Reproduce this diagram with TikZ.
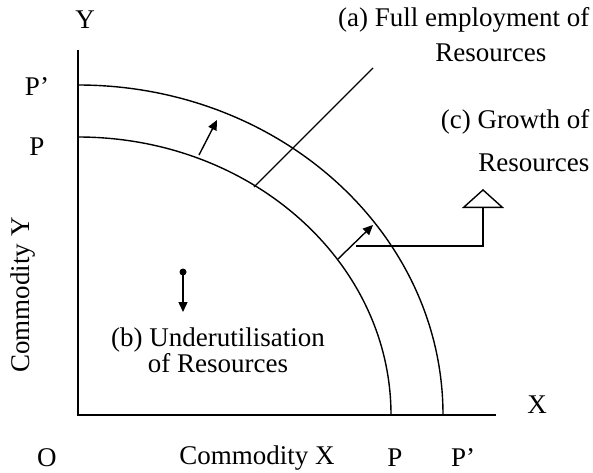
\documentclass[tikz,border=0pt]{standalone}
\usepackage{fontspec}
\setmainfont{Liberation Serif}
\usetikzlibrary{arrows.meta}
\begin{document}
\begin{tikzpicture}[x=0.5pt, y=0.5pt, line width=0.7pt,
		every node/.style={inner sep=0pt, font=\fontsize{13.5}{16}\selectfont},
		shiftarrow/.style={-{Triangle[length=5pt, width=4.5pt]}},
		growtharrow/.style={line width=1.1pt, -{Triangle[open, length=9.5pt, width=21pt, line width=0.7pt]}}]
		\useasboundingbox (-78,-57) rectangle (515,415);

		\coordinate (origin) at (0,0);
		\coordinate (yTop) at (0,365);
		\coordinate (xRight) at (418,0);
		\coordinate (innerTop) at (0,278);
		\coordinate (outerTop) at (0,330);

		\node (labelY) at (7,395) {Y};
		\node (labelX) at (459,10) {X};
		\node (labelO) at (-31,-43) {O};
		\node (labelOuterY) at (-41,328) {P’};
		\node (labelInnerY) at (-41,268) {P};
		\node (labelInnerX) at (317,-43) {P};
		\node (labelOuterX) at (385,-43) {P’};
		\node[rotate=90] (commodityY) at (-55,120) {Commodity Y};
		\node (commodityX) at (179,-43) {Commodity X};

		\node[anchor=east, align=right] (fullEmployment) at (512,380) {(a) Full employment of\\[1.5pt]Resources\hspace*{21.5pt}};
		\node[anchor=east, align=right] (growthText) at (512,274) {(c) Growth of\\[5.5pt]Resources};
		\node[align=center] (underUse) at (140,65) {(b) Underutilisation\\[-3pt]of Resources};

		\draw (yTop) -- (origin) -- (xRight);
		\draw (innerTop) arc[start angle=90, end angle=0, x radius=313, y radius=278];
		\draw (outerTop) arc[start angle=90, end angle=0, x radius=365, y radius=330];

		\coordinate (employStart) at (176,228);
		\coordinate (employEnd) at (295,347);
		\draw (employStart) -- (employEnd);

		\coordinate (shiftOneStart) at (121,260);
		\coordinate (shiftOneEnd) at (139,295);
		\draw[shiftarrow] (shiftOneStart) -- (shiftOneEnd);

		\coordinate (shiftTwoStart) at (260,156);
		\coordinate (shiftTwoEnd) at (295,190);
		\draw[shiftarrow] (shiftTwoStart) -- (shiftTwoEnd);

		\node[circle, fill, minimum size=3.5pt] (idlePoint) at (105,143) {};
		\coordinate (idleEnd) at (105,103);
		\draw[shiftarrow] (idlePoint.center) -- (idleEnd);

		\coordinate (growthStart) at (278,169);
		\coordinate (growthTip) at (405,226);
		\draw[growtharrow] (growthStart) -| (growthTip);
	\end{tikzpicture}
\end{document}
